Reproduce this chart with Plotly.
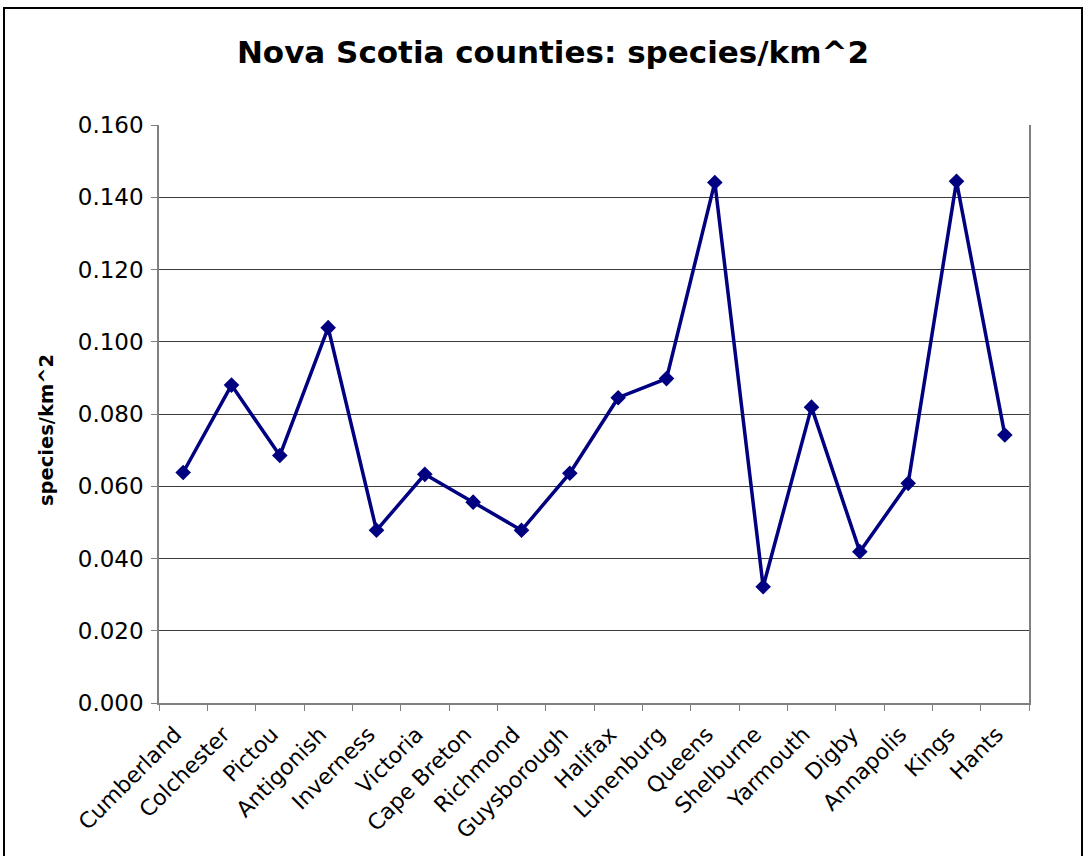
import plotly.graph_objects as go

# Nova Scotia counties and species density (species per km^2)
counties = [
    "Cumberland", "Colchester", "Pictou", "Antigonish", "Inverness", "Victoria",
    "Cape Breton", "Richmond", "Guysborough", "Halifax", "Lunenburg", "Queens",
    "Shelburne", "Yarmouth", "Digby", "Annapolis", "Kings", "Hants",
]
species_per_km2 = [
    0.0638, 0.0880, 0.0685, 0.1039, 0.0478, 0.0633,
    0.0556, 0.0478, 0.0636, 0.0845, 0.0898, 0.1441,
    0.0322, 0.0819, 0.0419, 0.0608, 0.1444, 0.0742,
]
y_ticks = [0.0, 0.02, 0.04, 0.06, 0.08, 0.10, 0.12, 0.14, 0.16]

NAVY = "#000080"
FONT = "DejaVu Sans, Verdana, sans-serif"

fig = go.Figure(
    go.Scatter(
        x=counties,
        y=species_per_km2,
        mode="lines+markers",
        line=dict(color=NAVY, width=3.5),
        marker=dict(symbol="diamond", size=12, color=NAVY),
        showlegend=False,
    )
)

L, R, T, B = 159, 57, 125, 153
W, H = 1086, 856
pw, ph = W - L - R, H - T - B

fig.update_layout(
    width=W,
    height=H,
    margin=dict(l=L, r=R, t=T, b=B),
    paper_bgcolor="white",
    plot_bgcolor="white",
    font=dict(family=FONT, color="black"),
    title=dict(
        text="<b>Nova Scotia counties: species/km^2</b>",
        x=(553 - L) / pw,
        xref="paper",
        xanchor="center",
        y=1 - 52 / H,
        yanchor="middle",
        font=dict(family=FONT, size=31, color="black"),
    ),
    xaxis=dict(
        type="category",
        range=[-0.5, len(counties) - 0.5],
        tickson="boundaries",
        ticks="outside",
        ticklen=6,
        tickcolor="#808080",
        tickangle=-45,
        tickfont=dict(family=FONT, size=22, color="black"),
        ticklabelstandoff=8,
        ticklabelshift=-8,
        showgrid=False,
        showline=True,
        linecolor="#808080",
        linewidth=1.5,
        zeroline=False,
    ),
    yaxis=dict(
        range=[0, 0.16],
        tickvals=y_ticks,
        tickformat=".3f",
        ticks="outside",
        ticklen=6,
        tickcolor="#808080",
        tickfont=dict(family=FONT, size=23, color="black"),
        ticklabelstandoff=3,
        showgrid=True,
        gridcolor="#3c3c3c",
        gridwidth=1.2,
        showline=True,
        mirror=True,
        linecolor="#808080",
        linewidth=1.5,
        zeroline=False,
    ),
    annotations=[
        # y-axis title, sitting slightly below the plot's mid-height
        dict(
            text="<b>species/km^2</b>",
            textangle=-90,
            xref="paper",
            yref="paper",
            x=(46 - L) / pw,
            y=(H - B - 430) / ph,
            xanchor="center",
            yanchor="middle",
            showarrow=False,
            font=dict(family=FONT, size=19.5, color="black"),
        )
    ],
    shapes=[
        # outer chart frame
        dict(
            type="rect",
            xref="paper",
            yref="paper",
            x0=(4 - L) / pw,
            x1=(1082 - L) / pw,
            y0=-(B + 20) / ph,
            y1=1 + (T - 8) / ph,
            line=dict(color="black", width=2),
            fillcolor="rgba(0,0,0,0)",
            layer="below",
        )
    ],
)

fig.write_html("out.html")
